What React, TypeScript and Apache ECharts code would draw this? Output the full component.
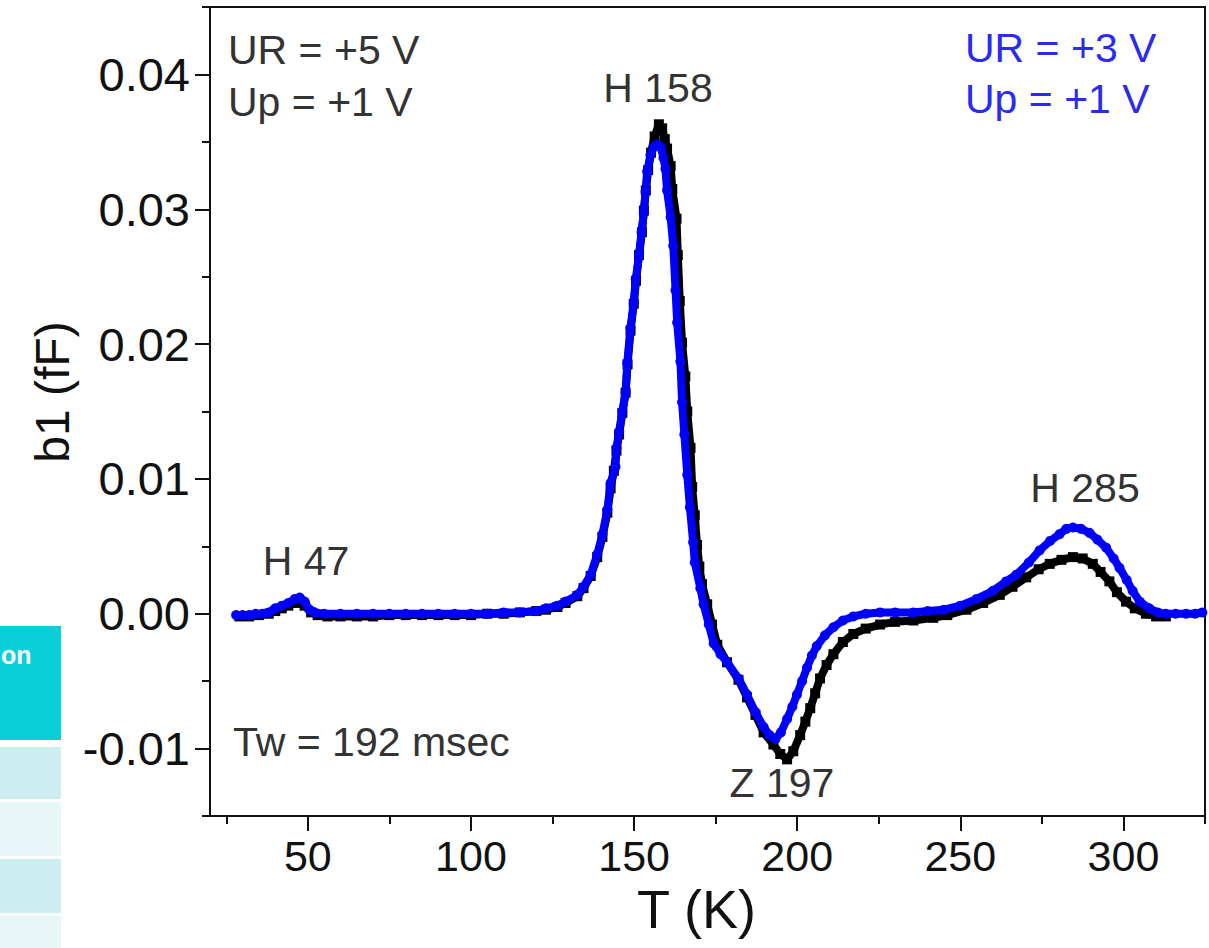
import React, { useEffect, useRef } from "react";
import * as echarts from "echarts";

// ---- data ----
const tempsBlack = [
  29, 32, 35, 38, 40, 42, 44, 46, 47.5, 49, 51, 53, 56, 60, 65, 70, 75, 80, 85, 90, 95, 100, 105, 110, 115, 120,
  123, 126.5, 129, 132.6, 134.5, 136.7, 138.7, 140.3, 141.8, 142.8, 143.8, 144.6, 145.4, 146.4, 147.4, 148.0,
  148.9, 149.9, 150.6, 151.5, 152.4, 153.0, 153.6, 154.3, 155.2, 156.3, 157.6, 158.6, 159.4, 160.1, 161.2,
  161.7, 163.0, 163.4, 164.0, 164.7, 165.7, 166.3, 167.3, 167.8, 168.6, 169.3, 170.0, 170.8, 172.4, 173.9,
  175.5, 178.5, 182.0, 184.6, 187.2, 189.7, 192.7, 194.8, 196.9, 198.8, 200.9, 202.5, 204.0, 205.5, 207.0,
  209, 211.1, 214, 217.2, 221, 225.4, 230, 235.6, 241.7, 246, 251.9, 257, 262.1, 266, 270.2, 274, 277.4, 281,
  284.5, 287.5, 290.6, 293, 295.7, 298, 300.8, 303.5, 306.9, 310, 313,
];
const valuesBlack = [
  -0.0002, -0.0002, -0.0001, 0.0, 0.0002, 0.0004, 0.0006, 0.0008, 0.0009, 0.0006, 0.0001, -0.0001, -0.0002,
  -0.0002, -0.0002, -0.0002, -0.0001, -0.0001, -0.0001, -0.0001, -0.0001, -0.0001, 0.0, 0.0, 0.0001, 0.0002,
  0.0003, 0.0005, 0.0008, 0.0013, 0.0019, 0.0028, 0.0042, 0.0057, 0.0075, 0.0093, 0.0106, 0.0121, 0.0133,
  0.0149, 0.0164, 0.0185, 0.021, 0.023, 0.0247, 0.0266, 0.0283, 0.0299, 0.0314, 0.0329, 0.0342, 0.0354,
  0.0363, 0.036, 0.0352, 0.0345, 0.0332, 0.0315, 0.0293, 0.0266, 0.0232, 0.0201, 0.0176, 0.015, 0.0123,
  0.0094, 0.0073, 0.0051, 0.0035, 0.0022, 0.0007, -0.0008, -0.0023, -0.0036, -0.0049, -0.0062, -0.0075,
  -0.0088, -0.0097, -0.0104, -0.0108, -0.0102, -0.009, -0.008, -0.007, -0.0059, -0.0048, -0.0038, -0.003,
  -0.0021, -0.0015, -0.0011, -0.0008, -0.0006, -0.0005, -0.0003, -0.0001, 0.0003, 0.0008, 0.0014, 0.002,
  0.0027, 0.0033, 0.0037, 0.004, 0.0042, 0.0041, 0.0037, 0.0031, 0.0024, 0.0016, 0.0009, 0.0004, 0.0,
  -0.0002, -0.0002,
];

const tempsBlue = [
  28, 30, 32, 34, 36, 38, 40, 42, 44, 46, 47.5, 49, 50.5, 52, 55, 60, 65, 70, 75, 80, 85, 90, 95, 100, 105, 110,
  115, 120, 123, 126.5, 129, 132.6, 134.5, 136.7, 138.7, 140.3, 141.8, 142.8, 144.3, 144.6, 145.4, 146.4,
  147.4, 147.9, 148.9, 149.9, 150.5, 151.5, 152.3, 153.0, 153.5, 154.0, 155.0, 156.0, 157.1, 158.2, 159.0,
  159.6, 160.1, 161.2, 162.0, 162.7, 163.2, 164.2, 164.7, 165.4, 166.3, 167.1, 168.1, 168.6, 170.3, 171.3,
  172.9, 174.4, 176.5, 178.5, 182.0, 184.6, 187.2, 189.7, 191.5, 193.3, 195.0, 196.9, 198.5, 199.9, 201.5,
  203.0, 204.5, 206.0, 208.5, 211.1, 214, 217.2, 221, 225.4, 230, 235.6, 240, 245, 250, 255, 260, 264, 267.2,
  271, 274.3, 277.5, 280.4, 282.5, 284.5, 287, 289.6, 292, 294.7, 297, 298.8, 301, 302.8, 305, 307.9, 310.5,
  313, 316, 319.2, 322, 324.2,
];
const valuesBlue = [
  -0.0001, -0.0001, -0.0001, 0.0, 0.0, 0.0001, 0.0004, 0.0006, 0.0008, 0.0011, 0.0012, 0.0009, 0.0003, 0.0001,
  0.0, 0.0, 0.0, 0.0, 0.0, 0.0, 0.0, 0.0, 0.0, 0.0, 0.0, 0.0001, 0.0001, 0.0002, 0.0004, 0.0006, 0.0009, 0.0014,
  0.002, 0.0029, 0.0044, 0.0059, 0.0077, 0.0097, 0.0109, 0.0123, 0.0135, 0.015, 0.0164, 0.0186, 0.0212,
  0.0231, 0.0248, 0.0266, 0.0283, 0.0298, 0.0313, 0.0328, 0.034, 0.0346, 0.0348, 0.0346, 0.0338, 0.033,
  0.0314, 0.0294, 0.0273, 0.024, 0.0216, 0.0187, 0.0157, 0.0133, 0.0103, 0.0079, 0.0053, 0.0038, 0.0019,
  0.0007, -0.0008, -0.0022, -0.003, -0.0036, -0.0048, -0.006, -0.0073, -0.0084, -0.009, -0.0093, -0.0088,
  -0.0078, -0.0069, -0.006, -0.005, -0.004, -0.0031, -0.0024, -0.0016, -0.001, -0.0005, -0.0002, 0.0, 0.0001,
  0.0001, 0.0001, 0.0002, 0.0003, 0.0006, 0.0011, 0.0017, 0.0024, 0.0029, 0.0038, 0.0047, 0.0054, 0.0059,
  0.0063, 0.0064, 0.0063, 0.006, 0.0055, 0.0049, 0.0041, 0.0034, 0.0025, 0.0017, 0.0009, 0.0004, 0.0001, 0.0,
  0.0, 0.0, 0.0, 0.0001,
];

const xMajorTicks = [50, 100, 150, 200, 250, 300];
const xMinorTicks = [25, 75, 125, 175, 225, 275, 325];
const yMajorTicks = [-0.01, 0, 0.01, 0.02, 0.03, 0.04];
const yTickLabels = ["-0.01", "0.00", "0.01", "0.02", "0.03", "0.04"];
const yMinorTicks = [-0.015, -0.005, 0.005, 0.015, 0.025, 0.035, 0.045];

const peakLabels = ["H 47", "H 158", "Z 197", "H 285"];

const FONT = "'Liberation Sans', Arial, Helvetica, sans-serif";

export default function App() {
  const ref = useRef<HTMLDivElement>(null);

  useEffect(() => {
    if (!ref.current) return;
    const chart = echarts.init(ref.current, undefined, { renderer: "svg" });

    const black = tempsBlack.map((t, i) => [t, valuesBlack[i]]);
    const blue = tempsBlue.map((t, i) => [t, valuesBlue[i]]);

    const txt = (text: string, x: number, y: number, color: string, align = "left") => ({
      type: "text",
      x,
      y,
      z: 100,
      style: {
        text,
        fill: color,
        font: `41px ${FONT}`,
        textAlign: align,
        textVerticalAlign: "middle",
      },
    });

    const dark = "#333333";
    const blueText = "#2b2bef";
    const axisColor = "#111";

    const option: any = {
      animation: false,
      backgroundColor: "#ffffff",
      grid: {
        left: 210,
        top: 7,
        width: 995,
        height: 809,
        show: true,
        borderColor: axisColor,
        borderWidth: 2,
        backgroundColor: "transparent",
      },
      xAxis: [
        {
          type: "value",
          min: 20,
          max: 325,
          position: "bottom",
          name: "T (K)",
          nameLocation: "middle",
          nameGap: 66,
          nameTextStyle: { fontFamily: FONT, fontSize: 54, color: axisColor, padding: [0, 22, 0, 0] },
          axisLine: { show: true, onZero: false, lineStyle: { color: axisColor, width: 2 } },
          axisTick: { show: true, customValues: xMajorTicks, length: 15, lineStyle: { color: axisColor, width: 2 } },
          axisLabel: {
            show: true,
            customValues: xMajorTicks,
            margin: 18,
            fontFamily: FONT,
            fontSize: 43,
            color: axisColor,
          },
          splitLine: { show: false },
        },
        {
          type: "value",
          min: 20,
          max: 325,
          position: "bottom",
          axisLine: { show: false, onZero: false },
          axisTick: { show: true, customValues: xMinorTicks, length: 8, lineStyle: { color: axisColor, width: 2 } },
          axisLabel: { show: false },
          splitLine: { show: false },
        },
      ],
      yAxis: [
        {
          type: "value",
          min: -0.015,
          max: 0.045,
          position: "left",
          axisLine: { show: true, onZero: false, lineStyle: { color: axisColor, width: 2 } },
          axisTick: { show: true, customValues: yMajorTicks, length: 15, lineStyle: { color: axisColor, width: 2 } },
          axisLabel: {
            show: true,
            customValues: yMajorTicks,
            margin: 20,
            fontFamily: FONT,
            fontSize: 47,
            color: axisColor,
            formatter: (v: number) => {
              const i = yMajorTicks.findIndex((m) => Math.abs(m - v) < 1e-9);
              return i >= 0 ? yTickLabels[i] : "";
            },
          },
          splitLine: { show: false },
        },
        {
          type: "value",
          min: -0.015,
          max: 0.045,
          position: "left",
          axisLine: { show: false, onZero: false },
          axisTick: { show: true, customValues: yMinorTicks, length: 8, lineStyle: { color: axisColor, width: 2 } },
          axisLabel: { show: false },
          splitLine: { show: false },
        },
      ],
      series: [
        {
          name: "UR = +5 V",
          type: "line",
          xAxisIndex: 0,
          yAxisIndex: 0,
          data: black,
          symbol: "rect",
          symbolSize: 10,
          itemStyle: { color: "#000000" },
          lineStyle: { color: "#000000", width: 8 },
          z: 2,
        },
        {
          name: "UR = +3 V",
          type: "line",
          xAxisIndex: 0,
          yAxisIndex: 0,
          data: blue,
          symbol: "circle",
          symbolSize: 10,
          itemStyle: { color: "#0000ff" },
          lineStyle: { color: "#0000ff", width: 8 },
          z: 3,
        },
      ],
      graphic: [
        // table fragment at left
        { type: "rect", shape: { x: 0, y: 626, width: 61, height: 114 }, style: { fill: "#0bcfd8" }, z: 1 },
        { type: "rect", shape: { x: 0, y: 747, width: 61, height: 52 }, style: { fill: "#cdeef0" }, z: 1 },
        { type: "rect", shape: { x: 0, y: 802, width: 61, height: 54 }, style: { fill: "#e7f6f6" }, z: 1 },
        { type: "rect", shape: { x: 0, y: 859, width: 61, height: 54 }, style: { fill: "#cdeef0" }, z: 1 },
        { type: "rect", shape: { x: 0, y: 916, width: 61, height: 40 }, style: { fill: "#e7f6f6" }, z: 1 },
        {
          type: "text",
          x: 1,
          y: 655,
          z: 2,
          style: { text: "on", fill: "#ffffff", font: `bold 25px ${FONT}`, textAlign: "left", textVerticalAlign: "middle" },
        },
        // y-axis title
        {
          type: "text",
          x: 52,
          y: 392,
          rotation: Math.PI / 2,
          z: 100,
          style: {
            text: "b1 (fF)",
            fill: axisColor,
            font: `48px ${FONT}`,
            textAlign: "center",
            textVerticalAlign: "middle",
          },
        },
        txt("UR = +5 V", 228, 50, dark),
        txt("Up = +1 V", 228, 102, dark),
        txt("UR = +3 V", 965, 48, blueText),
        txt("Up = +1 V", 965, 99, blueText),
        txt(peakLabels[0], 306, 561, dark, "center"),
        txt(peakLabels[1], 658, 88, dark, "center"),
        txt(peakLabels[2], 782, 783, dark, "center"),
        txt(peakLabels[3], 1085, 488, dark, "center"),
        txt("Tw = 192 msec", 233, 742, dark),
      ],
    };

    chart.setOption(option);
    return () => chart.dispose();
  }, []);

  return (
    <div
      ref={ref}
      style={{ position: "fixed", left: 0, top: 0, width: 1209, height: 948, background: "#fff" }}
    />
  );
}
